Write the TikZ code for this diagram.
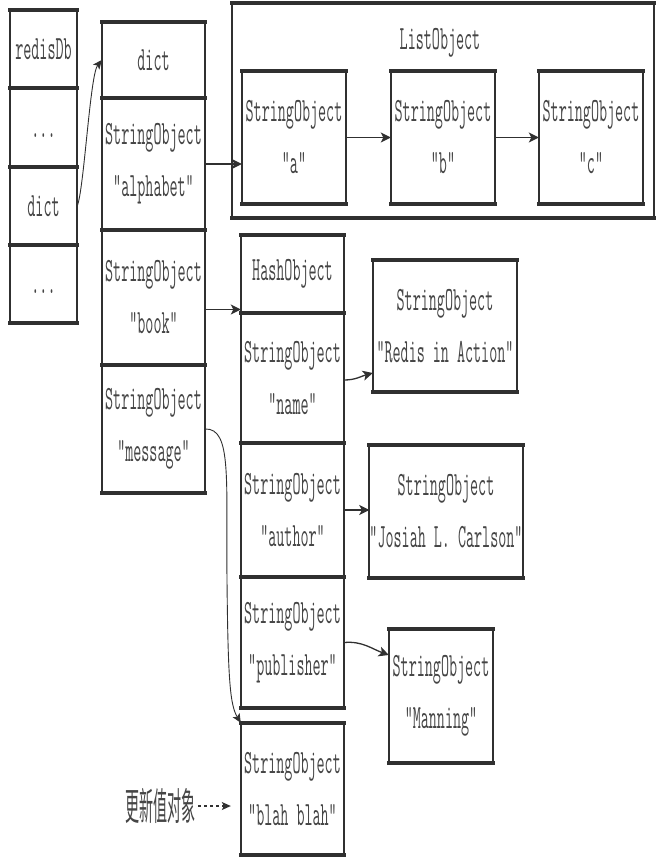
\documentclass[tikz,border=0pt]{standalone}
\usepackage{fontspec}
\usetikzlibrary{arrows.meta,calc}
\newfontfamily\monof[FakeStretch=0.46]{Latin Modern Mono}
\newfontfamily\cjkf[FakeStretch=0.37]{Noto Sans CJK SC}
\definecolor{lc}{HTML}{303030}
\definecolor{tc}{HTML}{454545}
\begin{document}
\begin{tikzpicture}[x=1pt,y=-1pt,
  cell/.style={inner sep=0pt, align=center, text=tc, font=\monof\fontsize{34}{52}\selectfont},
  hl/.style={draw=lc, line width=4pt, line cap=rect},
  vl/.style={draw=lc, line width=2pt},
  conn/.style={draw=lc, line width=1.3pt, -{Stealth[length=10pt,width=10pt,inset=2.5pt]}},
  thinconn/.style={draw=lc, line width=0.9pt, -{Stealth[length=9pt,width=8pt,inset=2pt]}},
  lbl/.style={text=tc, font=\monof\fontsize{34}{52}\selectfont, inner sep=0pt}]
\useasboundingbox[fill=white] (0,0) rectangle (662,860);

% redisDb column
\node[cell, minimum width=67pt, minimum height=78pt] (r0) at (43.5,49) {redisDb};
\node[cell, minimum width=67pt, minimum height=79pt] (r1) at (43.5,127.5) {};
\node[lbl] (r1t) at (43.5,136) {...};
\node[cell, minimum width=67pt, minimum height=78pt] (r2) at (43.5,206) {dict};
\node[cell, minimum width=67pt, minimum height=78pt] (r3) at (43.5,284) {};
\node[lbl] (r3t) at (43.5,292) {...};

% dict column
\node[cell, minimum width=103pt, minimum height=76pt] (d0) at (153.5,60) {dict};
\node[cell, minimum width=103pt, minimum height=132pt] (d1) at (153.5,164) {StringObject\\"alphabet"};
\node[cell, minimum width=103pt, minimum height=135pt] (d2) at (153.5,297.5) {StringObject\\"book"};
\node[cell, minimum width=103pt, minimum height=128pt] (d3) at (153.5,429) {StringObject\\"message"};

% ListObject
\node[minimum width=422pt, minimum height=215pt, inner sep=0pt] (lo) at (443,110.5) {};
\node[lbl] (lot) at (440,43) {ListObject};
\node[cell, minimum width=104pt, minimum height=133pt] (la) at (294,137.5) {StringObject\\"a"};
\node[cell, minimum width=104pt, minimum height=133pt] (lb) at (443,137.5) {StringObject\\"b"};
\node[cell, minimum width=104pt, minimum height=133pt] (lc) at (591,137.5) {StringObject\\"c"};

% Hash column
\node[cell, minimum width=103pt, minimum height=78pt] (h0) at (292.5,274) {HashObject};
\node[cell, minimum width=103pt, minimum height=130pt] (h1) at (292.5,378) {StringObject\\"name"};
\node[cell, minimum width=103pt, minimum height=134pt] (h2) at (292.5,510) {StringObject\\"author"};
\node[cell, minimum width=103pt, minimum height=131pt] (h3) at (292.5,642.5) {StringObject\\"publisher"};
\node[cell, minimum width=103pt, minimum height=132pt] (bl) at (292.5,789) {StringObject\\"blah blah"};

% value objects
\node[cell, minimum width=144pt, minimum height=132pt] (v1) at (445,326) {StringObject\\"Redis in Action"};
\node[cell, minimum width=152pt, minimum height=133pt] (v2) at (446,511.5) {StringObject\\"Josiah L. Carlson"};
\node[cell, minimum width=104pt, minimum height=134pt] (v3) at (441,696) {StringObject\\"Manning"};

% borders
\foreach \n in {r0,r1,r2,r3,d0,d1,d2,d3,lo,la,lb,lc,h0,h1,h2,h3,bl,v1,v2,v3}{
  \draw[vl] (\n.north west) -- (\n.south west) (\n.north east) -- (\n.south east);
  \draw[hl] (\n.north west) -- (\n.north east) (\n.south west) -- (\n.south east);
}

% label
\node[text=tc, font=\cjkf\fontsize{38}{40}\selectfont, inner sep=0pt, anchor=east] (upd) at (196,806) {更新值对象};

% connectors
\draw[thinconn] (r2.east) .. controls (84,190) and (90,75) .. (d0.west);
\draw[conn] (d1.east) -- (d1.east -| la.west);
\draw[conn] (la.east) -- (lb.west);
\draw[conn] (lb.east) -- (lc.west);
\draw[conn] ([yshift=-12pt]d2.east) -- ([yshift=-12pt]d2.east -| h0.west);
\draw[conn] ([yshift=-2pt]h1.east) to[out=0,in=195] ([yshift=-47pt]v1.west);
\draw[conn] (h2.east) -- (h2.east -| v2.west);
\draw[conn] (h3.east) to[out=5,in=160] ([yshift=41pt]v3.west);
\draw[thinconn] (d3.east) .. controls (232,428) and (226,480) .. (227,580) .. controls (228,680) and (230,705) .. (bl.north west);
\draw[draw=lc, line width=1.1pt, dashed, -{Stealth[length=9pt,width=8pt,inset=2pt]}, shorten >=10pt] ([xshift=2pt]upd.east) -- (upd.east -| bl.west);
\end{tikzpicture}
\end{document}
